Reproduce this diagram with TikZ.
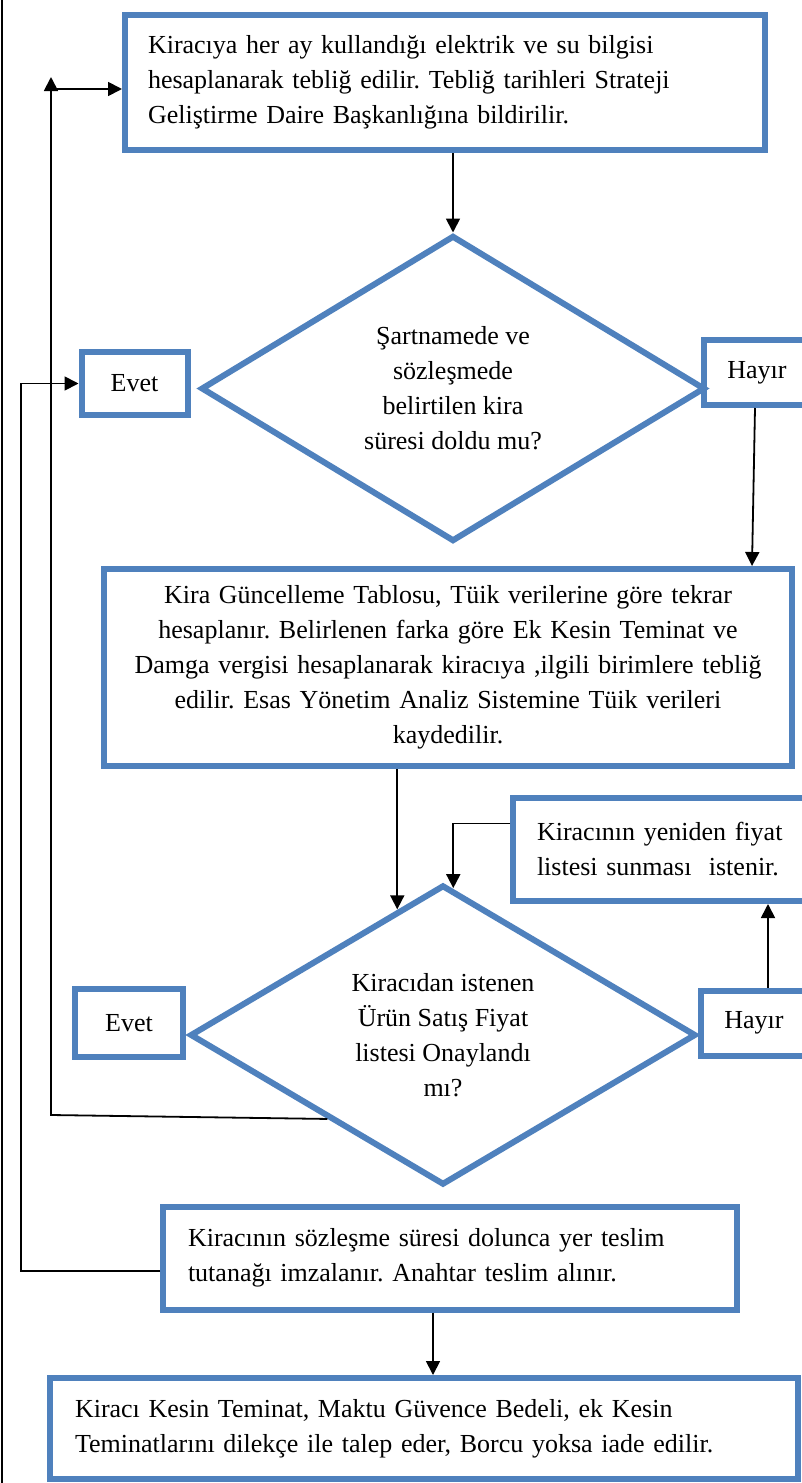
\documentclass[tikz,border=0pt]{standalone}
\usepackage{fontspec}
\setmainfont{Liberation Serif}
\frenchspacing
\usetikzlibrary{shapes.geometric,arrows.meta}

\definecolor{boxblue}{HTML}{4F81BD}

\tikzset{
  box/.style={draw=boxblue, line width=6pt, rectangle, inner ysep=0pt,
    font=\fontsize{26}{35}\selectfont},
  decision/.style={draw=boxblue, line width=6pt, diamond, aspect=1.6, inner sep=0pt,
    align=center, font=\fontsize{26}{35}\selectfont},
  arr/.style={line width=1.8pt, -{Triangle[length=14pt,width=14pt]}},
  wire/.style={line width=1.8pt},
}

\begin{document}
\begin{tikzpicture}[x=1pt, y=-1pt]
  \fill[white] (0,0) rectangle (801,1483);
  \useasboundingbox (0,0) rectangle (801,1483);

  % outer frame, left side only
  \draw[wire] (2,0) -- (2,1483);

  \node[box, text width=594pt, inner xsep=23pt, minimum height=135pt, align=left] (tebliq) at (445,82.5)
    {Kiracıya her ay kullandığı elektrik ve su bilgisi\\hesaplanarak tebliğ edilir. Tebliğ tarihleri Strateji\\Geliştirme Daire Başkanlığına bildirilir.};
  \node[decision, minimum width=504pt, minimum height=306pt] (sure) at (453,388.5)
    {Şartnamede ve\\sözleşmede\\belirtilen kira\\süresi doldu mu?};
  \node[box, minimum width=106pt, minimum height=63pt] (evet1) at (134.5,383.5) {Evet};
  \node[box, minimum width=106pt, minimum height=65pt] (hayir1) at (757,372.5) {Hayır};
  \node[box, text width=670pt, inner xsep=9pt, minimum height=197pt, align=center] (guncel) at (448,667.5)
    {Kira Güncelleme Tablosu, Tüik verilerine göre tekrar\\hesaplanır. Belirlenen farka göre Ek Kesin Teminat ve\\Damga vergisi hesaplanarak kiracıya ,ilgili birimlere tebliğ\\edilir. Esas Yönetim Analiz Sistemine Tüik verileri\\kaydedilir.};
  \node[box, text width=268pt, inner xsep=24pt, minimum height=103pt, align=left] (yeniden) at (671,849.5)
    {Kiracının yeniden fiyat\\listesi sunması\ \ istenir.};
  \node[decision, minimum width=506pt, minimum height=300pt] (onay) at (443,1035)
    {Kiracıdan istenen\\Ürün Satış Fiyat\\listesi Onaylandı\\mı?};
  \node[box, minimum width=108pt, minimum height=68pt] (evet2) at (129,1023) {Evet};
  \node[box, minimum width=106pt, minimum height=65pt] (hayir2) at (754,1023) {Hayır};
  \node[box, text width=524pt, inner xsep=25pt, minimum height=103pt, align=left] (teslim) at (450,1258)
    {Kiracının sözleşme süresi dolunca yer teslim\\tutanağı imzalanır. Anahtar teslim alınır.};
  \node[box, text width=698pt, inner xsep=25pt, minimum height=101pt, align=left] (iade) at (424,1428.5)
    {Kiracı Kesin Teminat, Maktu Güvence Bedeli, ek Kesin\\Teminatlarını dilekçe ile talep eder, Borcu yoksa iade edilir.};

  \coordinate (backbot) at (51,1115);
  \coordinate (backtop) at (51,77);
  \coordinate (backjoin) at (51,89);
  \coordinate (loopbot) at (21,1271);

  \draw[arr] (sure.north |- tebliq.south) -- (sure.north);
  \draw[arr] ([xshift=-2pt]hayir1.south) -- ([xshift=-5pt]hayir1.south |- guncel.north);
  \draw[arr] (guncel.south -| onay.110) -- (onay.110);
  \draw[arr] ([yshift=26pt]yeniden.west) -| (onay.86);
  \draw[arr] ([xshift=14pt]hayir2.north) -- ([xshift=14pt]hayir2.north |- yeniden.south);
  \draw[arr] (onay.216) -- (backbot) -- (backtop);
  \draw[arr] (backjoin) -- (backjoin -| tebliq.west);
  \draw[arr] ([yshift=-13pt]teslim.west) -- (loopbot) |- (evet1.west);
  \draw[arr] ([xshift=-17pt]teslim.south) -- ([xshift=-17pt]teslim.south |- iade.north);
\end{tikzpicture}
\end{document}
